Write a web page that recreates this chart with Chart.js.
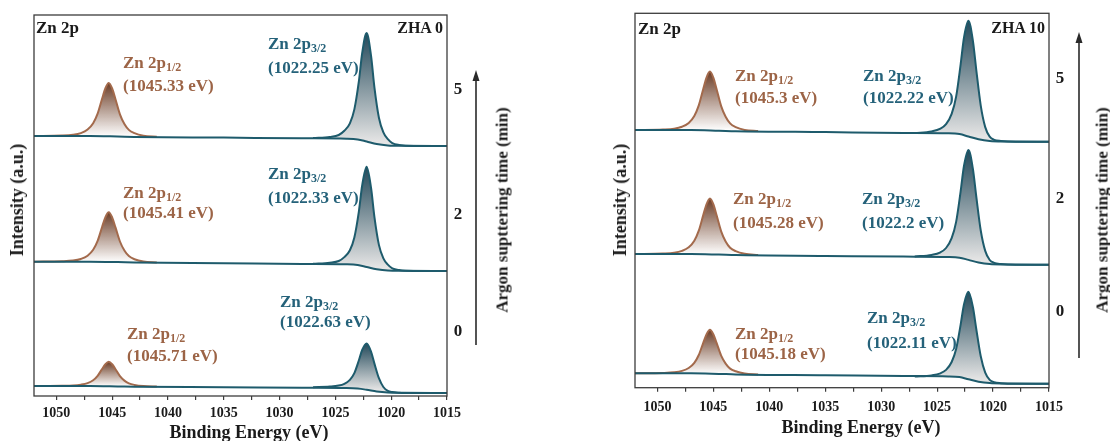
<!DOCTYPE html>
<html><head><meta charset="utf-8">
<script src="https://cdn.jsdelivr.net/npm/chart.js@4.4.1/dist/chart.umd.min.js"></script>
<style>
html,body{margin:0;padding:0;background:#fff;}
#wrap{position:relative;width:1110px;height:441px;overflow:hidden;font-family:'Liberation Serif','Times New Roman',serif;font-weight:bold;}
canvas{position:absolute;top:0;}
.t{position:absolute;white-space:nowrap;line-height:1;}
.t sub{font-size:12px;vertical-align:-3px;line-height:0;}
</style></head><body>
<div id="wrap">
<canvas id="cL" width="555" height="441" style="left:0"></canvas>
<canvas id="cR" width="555" height="441" style="left:555px"></canvas>
</div>
<script>
// ---------------- DATA ----------------
const sputterTimes = [0, 2, 5]; // min, bottom -> top
const beZn2p12 = [1052, 1049.5, 1048.5, 1047.8, 1047.2, 1046.7, 1046.3, 1045.9, 1045.6, 1045.3, 1045.0, 1044.7, 1044.3, 1043.9, 1043.5, 1043.0, 1042.2, 1041.0];
const beZn2p32 = [1027.0, 1025.5, 1024.7, 1024.2, 1023.7, 1023.3, 1022.9, 1022.6, 1022.2, 1021.8, 1021.5, 1021.1, 1020.7, 1020.3, 1019.9, 1019.3, 1018.0, 1015.0];
const beBackground = [1052, 1047, 1044.5, 1043, 1035, 1028, 1024, 1023, 1022.2, 1021.3, 1020.3, 1019, 1015];

// ZHA 0
const zha0_0min_bg   = [7, 7, 6.6, 6.3, 5.8, 5.2, 4.9, 4.4, 3.2, 1.5, 0.5, 0.2, 0];
const zha0_0min_2p12 = [7.0, 7.2, 7.5, 8.35, 9.9, 12.8, 17.2, 24.0, 28.85, 31.25, 28.75, 23.8, 16.9, 12.4, 9.7, 8.1, 6.9, 6.4];
const zha0_0min_2p32 = [5.8, 6.4, 7.4, 9.2, 13.2, 19.9, 32.5, 43.0, 49.5, 41.1, 29.4, 14.8, 6.0, 2.1, 0.9, 0.3, 0, 0];
const zha0_2min_bg   = [9.3, 9.3, 8.9, 8.5, 7.8, 7.1, 6.7, 6.0, 4.0, 1.8, 0.5, 0.2, 0];
const zha0_2min_2p12 = [9.3, 9.7, 10.4, 12.05, 15.3, 21.2, 30.1, 44.0, 53.9, 58.8, 53.7, 43.6, 29.5, 20.45, 14.9, 11.8, 9.45, 8.5];
const zha0_2min_2p32 = [7.2, 8.3, 10.0, 13.9, 20.8, 33.6, 59.2, 85.5, 104.2, 82.8, 53.9, 26.1, 12.6, 6.3, 2.7, 0.9, 0, 0];
const zha0_5min_bg   = [10, 10, 9.5, 9.1, 8.4, 7.7, 7.3, 6.6, 4.5, 2.0, 0.6, 0.2, 0];
const zha0_5min_2p12 = [10, 10.4, 11.2, 12.9, 16.4, 22.7, 32.3, 47.2, 57.8, 63.0, 57.6, 46.8, 31.7, 22.0, 16.1, 12.8, 10.2, 9.2];
const zha0_5min_2p32 = [7.9, 9.1, 11.0, 15.2, 22.7, 36.6, 64.3, 92.8, 113.0, 89.8, 58.4, 28.3, 13.6, 6.8, 2.9, 1.0, 0, 0];

// ZHA 10
const zha10_0min_bg   = [10.4, 10.4, 9.8, 9.3, 8.5, 7.7, 7.3, 6.6, 4.4, 2.0, 0.6, 0.2, 0];
const zha10_0min_2p12 = [10.4, 10.75, 11.4, 12.8, 15.7, 20.9, 28.7, 40.9, 49.6, 53.9, 49.4, 40.5, 28.1, 20.1, 15.1, 12.4, 10.2, 9.25];
const zha10_0min_2p32 = [7.1, 8.3, 10.4, 13.8, 21.7, 34.7, 58.9, 79.3, 92.0, 76.7, 54.7, 27.4, 11.1, 3.8, 1.5, 0.55, 0, 0];
const zha10_2min_bg   = [10.7, 10.7, 10.1, 9.6, 8.8, 8.1, 7.7, 7.0, 4.8, 2.2, 0.6, 0.2, 0];
const zha10_2min_2p12 = [10.7, 11.15, 11.9, 13.8, 17.4, 24.0, 34.0, 49.6, 60.7, 66.2, 60.5, 49.2, 33.4, 23.2, 17.0, 13.5, 10.9, 9.75];
const zha10_2min_2p32 = [8.2, 9.75, 12.4, 16.7, 26.5, 42.8, 73.1, 98.7, 114.8, 95.7, 68.2, 34.2, 13.8, 4.7, 1.85, 0.65, 0, 0];
const zha10_5min_bg   = [11.7, 11.7, 11.0, 10.5, 9.6, 8.8, 8.4, 7.6, 5.2, 2.4, 0.7, 0.2, 0];
const zha10_5min_2p12 = [11.7, 12.2, 13.0, 14.95, 18.8, 25.8, 36.3, 52.7, 64.4, 70.1, 64.1, 52.2, 35.6, 24.9, 18.3, 14.6, 11.8, 10.6];
const zha10_5min_2p32 = [8.6, 10.2, 13.0, 17.6, 27.9, 45.1, 77.1, 104.0, 121.0, 100.8, 71.9, 36.1, 14.6, 5.0, 1.9, 0.7, 0, 0];

// peak position labels (eV), order 0, 2, 5 min
const zha0_E12  = ['1045.71', '1045.41', '1045.33'];
const zha0_E32  = ['1022.63', '1022.33', '1022.25'];
const zha10_E12 = ['1045.18', '1045.28', '1045.3'];
const zha10_E32 = ['1022.11', '1022.2', '1022.22'];

// x axis ticks
const xMajorTicks = [1050, 1045, 1040, 1035, 1030, 1025, 1020, 1015];
const xMinorTicks = [1047.5, 1042.5, 1037.5, 1032.5, 1027.5, 1022.5, 1017.5];

// ---------------- STYLE / LAYOUT ----------------
const BROWN = '#a36a4c', TEAL = '#1e5b6c';
const TXT_BROWN = '#9c6446', TXT_TEAL = '#25627a', TXT_BLACK = '#1a1a1a';
const FONT = "'Liberation Serif','Times New Roman',serif";

function grad(chart, yTop, yBot, c0, c1) {
  const g = chart.ctx.createLinearGradient(0, yTop, 0, yBot);
  g.addColorStop(0, c0); g.addColorStop(1, c1);
  return g;
}

function buildDatasets(spectra, offsets) {
  const ds = [];
  spectra.forEach((s, i) => {
    const off = offsets[i];
    const bgIndex = ds.length;
    ds.push({
      data: beBackground.map((x, k) => ({x, y: s.bg[k] + off})),
      borderColor: TEAL, borderWidth: 2, fill: false, order: 0
    });
    const m12 = Math.max(...s.p12);
    ds.push({
      data: beZn2p12.map((x, k) => ({x, y: s.p12[k] + off})),
      borderColor: BROWN, borderWidth: 2, order: 1, fill: bgIndex,
      backgroundColor: (ctx) => {
        const c = ctx.chart; if (!c.chartArea) return 'rgba(0,0,0,0)';
        const y = c.scales.y;
        return grad(c, y.getPixelForValue(m12 + off), y.getPixelForValue(s.bg[2] + off), '#6a3b24', 'rgba(255,255,255,0.95)');
      }
    });
    const m32 = Math.max(...s.p32);
    ds.push({
      data: beZn2p32.map((x, k) => ({x, y: s.p32[k] + off})),
      borderColor: TEAL, borderWidth: 2, order: 1, fill: bgIndex,
      backgroundColor: (ctx) => {
        const c = ctx.chart; if (!c.chartArea) return 'rgba(0,0,0,0)';
        const y = c.scales.y;
        return grad(c, y.getPixelForValue(m32 + off), y.getPixelForValue(s.bg[8] + off), '#23495a', '#e4e4e4');
      }
    });
  });
  return ds;
}

const framePlugin = {
  id: 'frame',
  afterDatasetsDraw(chart) {
    const {ctx, chartArea: a} = chart;
    ctx.save();
    ctx.strokeStyle = '#3c3c3c'; ctx.lineWidth = 1.3;
    ctx.strokeRect(a.left, a.top, a.right - a.left, a.bottom - a.top);
    ctx.restore();
  },
  afterDraw(chart, args, opts) {
    const ctx = chart.ctx;
    const {x, yTop, yBot} = opts.arrow;
    ctx.save();
    ctx.strokeStyle = '#2a2a2a'; ctx.fillStyle = '#2a2a2a'; ctx.lineWidth = 1.6;
    ctx.beginPath(); ctx.moveTo(x, yBot); ctx.lineTo(x, yTop + 8); ctx.stroke();
    ctx.beginPath(); ctx.moveTo(x, yTop); ctx.lineTo(x - 3.5, yTop + 11); ctx.lineTo(x + 3.5, yTop + 11); ctx.closePath(); ctx.fill();
    ctx.restore();
  }
};

function makeChart(id, spectra, cfg) {
  return new Chart(document.getElementById(id), {
    type: 'line',
    data: { datasets: buildDatasets(spectra, cfg.offsets) },
    options: {
      responsive: false, animation: false, devicePixelRatio: 1, events: [],
      layout: { padding: cfg.padding },
      elements: { point: { radius: 0 }, line: { cubicInterpolationMode: 'monotone' } },
      plugins: { legend: { display: false }, tooltip: { enabled: false }, frame: { arrow: cfg.arrow } },
      scales: {
        x: {
          type: 'linear', reverse: true, min: 1015, max: 1052,
          afterBuildTicks: (sc) => { sc.ticks = xMajorTicks.concat(xMinorTicks).sort((a,b)=>a-b).map(v => ({value: v})); },
          afterFit: (sc) => { sc.height = cfg.axisH; },
          ticks: {
            autoSkip: false, maxRotation: 0, padding: cfg.tickPad, color: TXT_BLACK,
            font: { family: FONT, size: 14, weight: 'bold' },
            callback: (v) => xMajorTicks.includes(v) ? String(v) : ''
          },
          grid: { display: true, drawOnChartArea: false, drawTicks: true, tickLength: 4, color: '#3c3c3c', lineWidth: 1.2 },
          border: { display: false }
        },
        y: { type: 'linear', display: false, min: 0, max: cfg.yMax }
      }
    },
    plugins: [framePlugin]
  });
}

makeChart('cL', [
  {bg: zha0_0min_bg, p12: zha0_0min_2p12, p32: zha0_0min_2p32},
  {bg: zha0_2min_bg, p12: zha0_2min_2p12, p32: zha0_2min_2p32},
  {bg: zha0_5min_bg, p12: zha0_5min_2p12, p32: zha0_5min_2p32}
], { offsets: [3, 125, 250], yMax: 381, axisH: 45, tickPad: 5,
     padding: {left: 34, right: 108, top: 15, bottom: 0}, arrow: {x: 476, yTop: 70, yBot: 345} });

makeChart('cR', [
  {bg: zha10_0min_bg, p12: zha10_0min_2p12, p32: zha10_0min_2p32},
  {bg: zha10_2min_bg, p12: zha10_2min_2p12, p32: zha10_2min_2p32},
  {bg: zha10_5min_bg, p12: zha10_5min_2p12, p32: zha10_5min_2p32}
], { offsets: [4, 123, 246], yMax: 374.4, axisH: 53.3, tickPad: 7,
     padding: {left: 80, right: 61, top: 13.3, bottom: 0}, arrow: {x: 524, yTop: 32, yBot: 358} });

// ---------------- TEXT ----------------
const wrap = document.getElementById('wrap');
function txt(html, x, y, color, size, mode) {
  const d = document.createElement('div');
  d.className = 't'; d.innerHTML = html;
  d.style.left = x + 'px'; d.style.top = y + 'px';
  d.style.color = color; d.style.fontSize = size + 'px';
  if (mode === 'right') d.style.transform = 'translate(-100%,-50%)';
  else if (mode === 'center') d.style.transform = 'translate(-50%,-50%)';
  else if (mode === 'rot') d.style.transform = 'translate(-50%,-50%) rotate(-90deg)';
  else d.style.transform = 'translateY(-50%)';
  wrap.appendChild(d);
}
const sub12 = 'Zn 2p<sub>1/2</sub>', sub32 = 'Zn 2p<sub>3/2</sub>';
// panel headers
txt('Zn 2p', 36, 27, TXT_BLACK, 17);
txt('ZHA 0', 443, 28, TXT_BLACK, 16, 'right');
txt('Zn 2p', 638, 28, TXT_BLACK, 17);
txt('ZHA 10', 1045, 28, TXT_BLACK, 16, 'right');
// peak annotations, order 0, 2, 5 min
const annL = [
  {b: [127, 333, 355], t: [280, 301, 321]},
  {b: [123, 192, 212], t: [268, 173, 197]},
  {b: [123, 62, 85],   t: [268, 43, 67]}
];
const annR = [
  {b: [735, 333, 353], t: [867, 317, 342]},
  {b: [733, 198, 222], t: [862, 198, 222]},
  {b: [735, 75, 97],   t: [863, 75, 97]}
];
sputterTimes.forEach((t, i) => {
  let a = annL[i];
  txt(sub12, a.b[0], a.b[1], TXT_BROWN, 17); txt('(' + zha0_E12[i] + ' eV)', a.b[0], a.b[2], TXT_BROWN, 17);
  txt(sub32, a.t[0], a.t[1], TXT_TEAL, 17);  txt('(' + zha0_E32[i] + ' eV)', a.t[0], a.t[2], TXT_TEAL, 17);
  a = annR[i];
  txt(sub12, a.b[0], a.b[1], TXT_BROWN, 17); txt('(' + zha10_E12[i] + ' eV)', a.b[0], a.b[2], TXT_BROWN, 17);
  txt(sub32, a.t[0], a.t[1], TXT_TEAL, 17);  txt('(' + zha10_E32[i] + ' eV)', a.t[0], a.t[2], TXT_TEAL, 17);
});
// sputtering time labels
const timeYL = [330, 213, 88], timeYR = [310, 197, 77];
sputterTimes.forEach((t, i) => {
  txt(String(t), 458, timeYL[i], TXT_BLACK, 17, 'center');
  txt(String(t), 1060, timeYR[i], TXT_BLACK, 17, 'center');
});
// axis titles
txt('Argon supttering time (min)', 502, 210, TXT_BLACK, 17, 'rot');
txt('Argon supttering time (min)', 1102, 210, TXT_BLACK, 17, 'rot');
txt('Intensity (a.u.)', 17, 200, TXT_BLACK, 18, 'rot');
txt('Intensity (a.u.)', 620, 200, TXT_BLACK, 18, 'rot');
txt('Binding Energy (eV)', 249, 432, TXT_BLACK, 18, 'center');
txt('Binding Energy (eV)', 861, 427, TXT_BLACK, 18, 'center');
</script>
</body></html>
